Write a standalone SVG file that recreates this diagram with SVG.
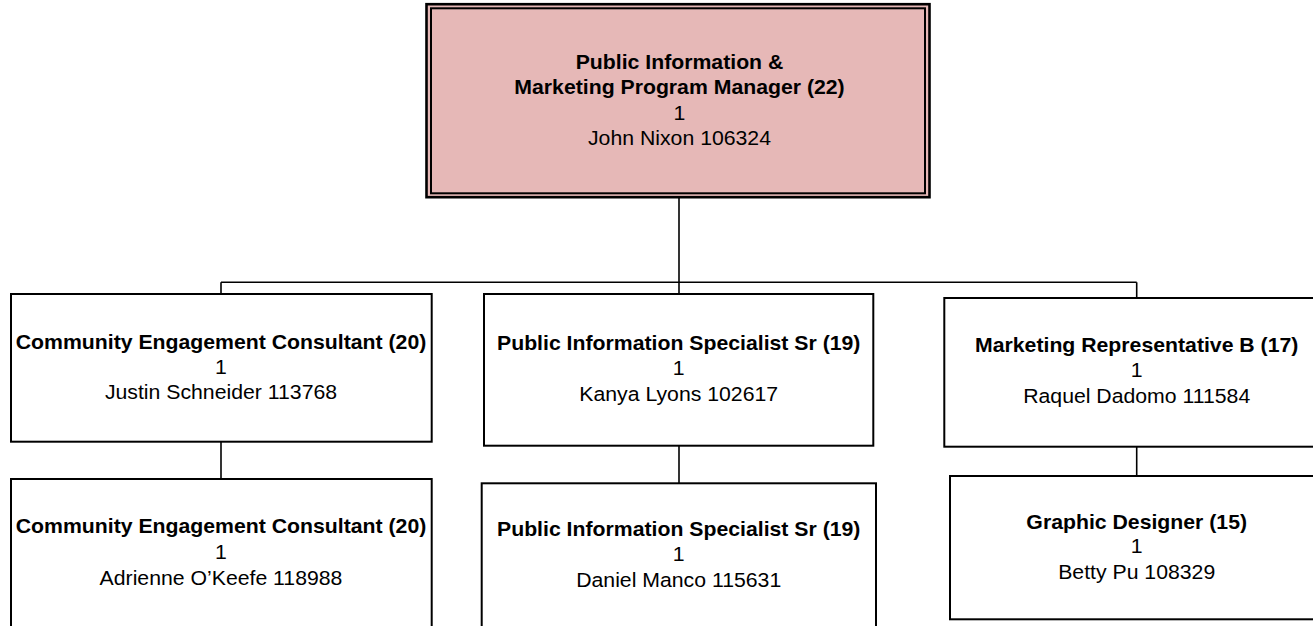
<svg xmlns="http://www.w3.org/2000/svg" width="1313" height="626" viewBox="0 0 1313 626">
<style>
  .box { fill: #ffffff; stroke: #000000; stroke-width: 2; }
  .top { fill: #E6B8B7; stroke: #000000; }
  .conn { fill: none; stroke: #000000; stroke-width: 1.6; }
  text { font-family: "Liberation Sans", Arial, sans-serif; font-size: 19.5px; fill: #000000; text-anchor: middle; }
  .b { font-weight: bold; }
</style>
<rect width="1313" height="626" fill="#ffffff"/>
<g id="connectors">
  <path class="conn" d="M679 197 V294"/>
  <path class="conn" d="M221 282.3 H1136.7"/>
  <path class="conn" d="M221 282.3 V294"/>
  <path class="conn" d="M1136.7 282.3 V298"/>
  <path class="conn" d="M221 441.7 V479"/>
  <path class="conn" d="M679 445.7 V483.3"/>
  <path class="conn" d="M1136.7 446.7 V476"/>
</g>
<g id="node-manager">
  <rect class="top" x="426.5" y="4.2" width="503" height="193" stroke-width="2.6"/>
  <rect class="top" x="431" y="8.3" width="494" height="185" stroke-width="2"/>
  <g transform="translate(679.5,0) scale(1.09,1)">
    <text class="b" x="0" y="69">Public Information &amp;</text>
    <text class="b" x="0" y="94">Marketing Program Manager (22)</text>
    <text x="0" y="120">1</text>
    <text x="0" y="145.5">John Nixon 106324</text>
  </g>
</g>
<g id="node-cec1">
  <rect class="box" x="11" y="294" width="420.7" height="147.7"/>
  <g transform="translate(221,0) scale(1.09,1)">
    <text class="b" x="0" y="348.7">Community Engagement Consultant (20)</text>
    <text x="0" y="374">1</text>
    <text x="0" y="399.5">Justin Schneider 113768</text>
  </g>
</g>
<g id="node-cec2">
  <rect class="box" x="11" y="479" width="420.7" height="180"/>
  <g transform="translate(221,0) scale(1.09,1)">
    <text class="b" x="0" y="533.5">Community Engagement Consultant (20)</text>
    <text x="0" y="559">1</text>
    <text x="0" y="585">Adrienne O’Keefe 118988</text>
  </g>
</g>
<g id="node-pis1">
  <rect class="box" x="484" y="294" width="389.3" height="151.7"/>
  <g transform="translate(678.7,0) scale(1.09,1)">
    <text class="b" x="0" y="350.5">Public Information Specialist Sr (19)</text>
    <text x="0" y="375.5">1</text>
    <text x="0" y="401">Kanya Lyons 102617</text>
  </g>
</g>
<g id="node-pis2">
  <rect class="box" x="481.7" y="483.3" width="394.3" height="180"/>
  <g transform="translate(678.7,0) scale(1.09,1)">
    <text class="b" x="0" y="536.5">Public Information Specialist Sr (19)</text>
    <text x="0" y="561.5">1</text>
    <text x="0" y="587">Daniel Manco 115631</text>
  </g>
</g>
<g id="node-mrb">
  <rect class="box" x="944.3" y="298" width="385" height="148.7"/>
  <g transform="translate(1136.7,0) scale(1.09,1)">
    <text class="b" x="0" y="352.5">Marketing Representative B (17)</text>
    <text x="0" y="377.5">1</text>
    <text x="0" y="403">Raquel Dadomo 111584</text>
  </g>
</g>
<g id="node-gd">
  <rect class="box" x="950" y="476" width="373.4" height="143.3"/>
  <g transform="translate(1136.7,0) scale(1.09,1)">
    <text class="b" x="0" y="529">Graphic Designer (15)</text>
    <text x="0" y="553.5">1</text>
    <text x="0" y="579">Betty Pu 108329</text>
  </g>
</g>
</svg>
